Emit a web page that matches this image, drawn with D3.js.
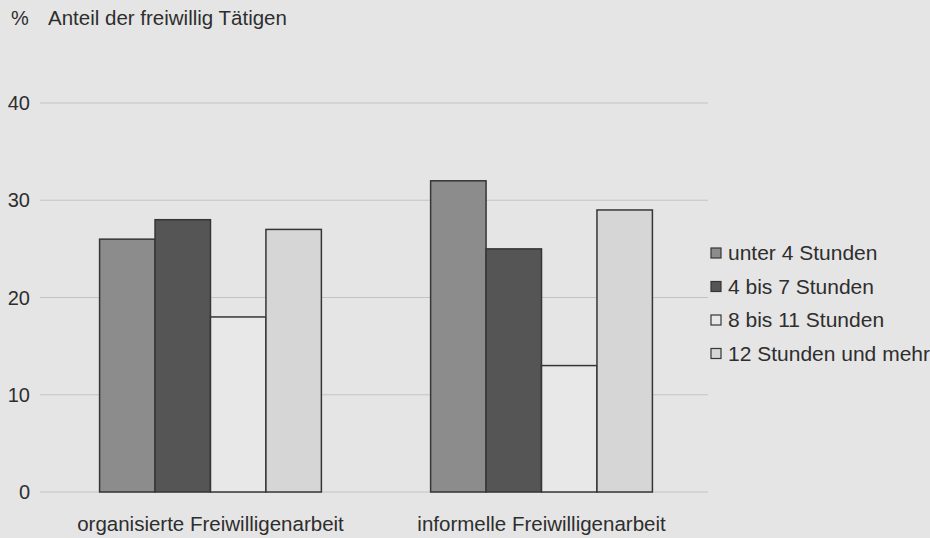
<!DOCTYPE html>
<html>
<head>
<meta charset="utf-8">
<script src="https://cdn.jsdelivr.net/npm/d3@7"></script>
<style>
  body { margin: 0; background: #e5e5e5; }
  svg { display: block; font-family: "Liberation Sans", Arial, sans-serif; }
</style>
</head>
<body>
<script>
// categories, series and values
const categories = ["organisierte Freiwilligenarbeit", "informelle Freiwilligenarbeit"];
const series = ["unter 4 Stunden", "4 bis 7 Stunden", "8 bis 11 Stunden", "12 Stunden und mehr"];
const orgValues = [26, 28, 18, 27];
const infValues = [32, 25, 13, 29];
const yTicks = [0, 10, 20, 30, 40];
const colors = ["#8c8c8c", "#555555", "#e8e8e8", "#d6d6d6"];

const w = 930, h = 538;

const rows = [];
categories.forEach((c, ci) => {
  const vals = ci === 0 ? orgValues : infValues;
  series.forEach((s, si) => rows.push({cat: c, series: s, value: vals[si]}));
});

const svg = d3.select("body").append("svg")
    .attr("width", w)
    .attr("height", h);

svg.append("rect").attr("width", w).attr("height", h).attr("fill", "#e5e5e5");

const x0 = d3.scaleBand().domain(categories).range([40, 712]).paddingInner(0.33).paddingOuter(0.18);
const x1 = d3.scaleBand().domain(series).range([0, x0.bandwidth()]);
const y = d3.scaleLinear().domain([0, 40]).range([492, 103]);
const color = d3.scaleOrdinal().domain(series).range(colors);

// gridlines
svg.append("g").selectAll("line").data(yTicks).join("line")
    .attr("x1", 40).attr("x2", 708)
    .attr("y1", d => y(d)).attr("y2", d => y(d))
    .attr("stroke", "#c4c4c4").attr("stroke-width", 1.2);

// tick labels
svg.append("g").selectAll("text").data(yTicks).join("text")
    .attr("x", 30).attr("y", d => y(d) + 7)
    .attr("text-anchor", "end")
    .attr("font-size", 20).attr("fill", "#2e2e2e")
    .text(d => d);

// axis title
svg.append("text").attr("x", 11).attr("y", 25).attr("font-size", 20).attr("fill", "#2e2e2e").text("%");
svg.append("text").attr("x", 48).attr("y", 25).attr("font-size", 20.5).attr("fill", "#2e2e2e")
    .text("Anteil der freiwillig Tätigen");

// bars
svg.append("g").selectAll("rect").data(rows).join("rect")
    .attr("x", d => x0(d.cat) + x1(d.series))
    .attr("y", d => y(d.value))
    .attr("width", x1.bandwidth())
    .attr("height", d => y(0) - y(d.value))
    .attr("fill", d => color(d.series))
    .attr("stroke", "#363636")
    .attr("stroke-width", 1.5);

// category labels
svg.append("g").selectAll("text").data(categories).join("text")
    .attr("x", d => x0(d) + x0.bandwidth() / 2)
    .attr("y", 531)
    .attr("text-anchor", "middle")
    .attr("font-size", 20.5).attr("fill", "#2e2e2e")
    .text(d => d);

// legend
const legend = svg.append("g").selectAll("g").data(series).join("g")
    .attr("transform", (d, i) => `translate(711, ${253 + i * 33.5})`);
legend.append("rect")
    .attr("x", 0).attr("y", -5).attr("width", 10).attr("height", 10)
    .attr("fill", d => color(d))
    .attr("stroke", "#363636").attr("stroke-width", 1.2);
legend.append("text")
    .attr("x", 17).attr("y", 7)
    .attr("font-size", 21).attr("fill", "#2e2e2e")
    .text(d => d);
</script>
</body>
</html>
